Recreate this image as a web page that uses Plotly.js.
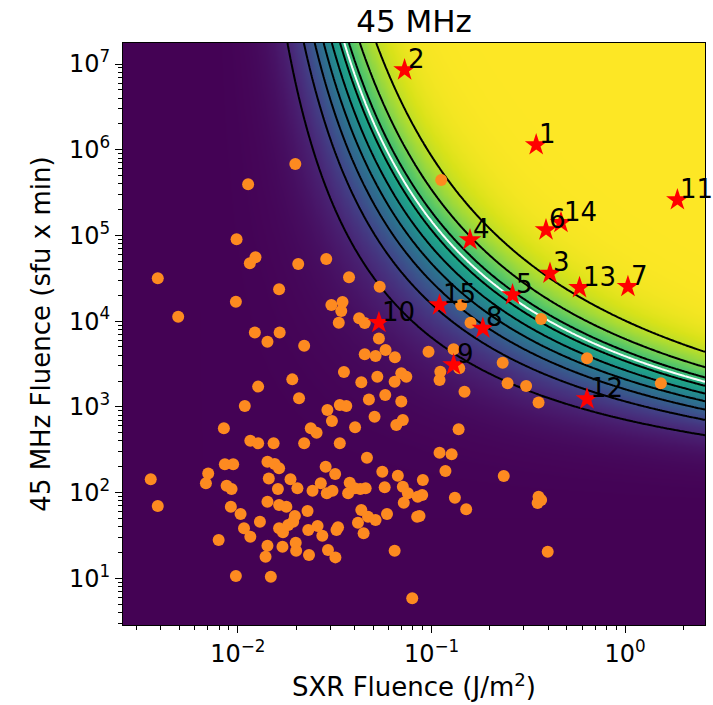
<!DOCTYPE html>
<html>
<head>
<meta charset="utf-8">
<script src="https://cdn.plot.ly/plotly-3.0.1.min.js"></script>
<style>
html,body{margin:0;padding:0;background:#fff;}
#chart{width:713px;height:705px;}
</style>
</head>
<body>
<div id="chart"></div>
<script>
// ---------- data ----------
// orange events: SXR fluence (J/m^2) and 45 MHz fluence (sfu x min)
const sxrOrange = [
0.0198,0.0113,0.00985,0.01153,0.01233,0.0205,0.0286,0.0375,0.00386,0.01633,0.054,0.00977,0.00492,0.0304,0.0347,0.0342,0.0332,0.0423,0.0452,0.01224,0.01422,0.01644,0.0535,0.022,
0.1122,0.1422,0.159,0.368,
0.0452,0.0514,0.0579,0.0647,0.0353,0.0434,0.0525,0.0645,0.0698,0.0741,0.0191,0.01273,0.0207,0.0475,0.0577,0.0698,0.01086,0.029,0.0336,0.0363,0.0306,0.0508,0.0403,0.0658,0.0711,
0.00847,0.0238,0.0255,0.0116,0.01273,0.0153,0.022,0.0336,0.0464,0.01422,0.0155,0.01633,0.00857,0.00946,0.0284,0.0318,0.0557,0.067,0.00703,0.01445,0.0187,0.00355,0.00684,
0.00875,0.00928,0.0161,0.0203,0.0243,0.0268,0.0288,0.0308,0.0378,0.0401,0.0371,0.0429,0.0457,0.0573,0.0711,0.0755,0.0849,0.00386,0.0092,0.01033,0.01422,0.01633,0.0178,
0.0197,0.0193,0.0229,0.0434,0.047,0.0514,0.0417,0.0589,0.0719,0.0843,0.013,0.01076,0.01633,0.0171,0.0182,0.0231,0.0258,0.0273,0.0323,0.0329,0.0446,0.0116,0.00796,
0.01422,0.017,0.0199,0.02,0.0233,0.0292,0.0319,0.0139,0.0645,0.00977,0.0148,0.0795,
0.0965,0.130,0.111,0.110,0.139,0.148,0.233,0.247,0.308,0.357,0.635,1.528,0.138,0.110,0.127,0.118,0.236,0.0902,0.0895,0.132,0.151,0.0867,0.357,0.368,0.353,0.398
];
const radioOrange = [
6.81e5,3.95e5,9.02e4,4.72e4,5.56e4,4.64e4,5.31e4,3.24e4,3.16e4,2.35e4,2.52e4,1.68e4,1.125e4,1.54e4,1.67e4,1.31e4,9.58e3,1.08e4,9.5e3,7.36e3,5.75e3,7.36e3,6.27e3,5.16e3,
4.43e5,1.54e4,9.58e3,1.06e4,
4.10e3,3.92e3,4.60e3,3.78e3,2.55e3,1.93e3,2.24e3,1.96e3,2.46e3,2.24e3,2.09e3,1.72e3,1.256e3,1.22e3,1.37e3,1.15e3,1.02e3,918,1.05e3,1.02e3,683,766,576,613,702,
561,561,499,402,375,375,375,375,255,229,215,192,213,213,200,164,175,157,167,146,143,143,128,
120,110,110,112,105,128,97.9,105,130,112,97.9,110,112,115,117,97.9,89.3,69.5,68.3,56.1,78.1,71.5,68.3,
53.2,45.6,60.8,62.5,52.2,47.8,44.4,56.1,76.0,52.2,45.6,38.2,38.2,34.3,41.8,36.5,40.6,31.3,36.5,39.3,33.4,30.5,27.9,
23.9,23.3,25.9,20.9,18.7,21.3,17.5,17.8,20.9,10.6,10.4,5.83,
4.40e3,4.69e3,2.57e3,2.06e3,2.81e3,1.50e3,3.27e3,1.88e3,1.75e3,1.12e3,3.68e3,1.88e3,546,291,279,178,156,140,93.5,86.9,63.7,53.2,89.3,81.8,75.4,20.4
];
// red numbered events
const starLabels = ["1","2","3","4","5","6","7","8","9","10","11","12","13","14","15"];
const sxrStar   = [0.347,0.0726,0.409,0.158,0.262,0.390,1.033,0.184,0.130,0.0535,1.86,0.635,0.581,0.466,0.110];
const radioStar = [1.135e6,8.51e6,3.61e4,8.84e4,2.02e4,1.156e5,2.52e4,8.24e3,3.08e3,9.58e3,2.59e5,1.233e3,2.45e4,1.41e5,1.54e4];
// axis ticks
const xTickVals = [0.01,0.1,1];
const xTickText = ["10<sup>\u22122</sup>","10<sup>\u22121</sup>","10<sup>0</sup>"];
const yTickVals = [1e1,1e2,1e3,1e4,1e5,1e6,1e7];
const yTickText = ["10<sup>1</sup>","10<sup>2</sup>","10<sup>3</sup>","10<sup>4</sup>","10<sup>5</sup>","10<sup>6</sup>","10<sup>7</sup>"];
// background probability model (logistic with log-log interaction)
const MODEL_U0 = -2.2, MODEL_V0 = 1.7, MODEL_SLOPE = 1.73, MODEL_MID = 3.8;
const BLACK_LEVELS = {start:0.1, end:0.9, size:0.1};
const WHITE_LEVEL = 0.65;
// axis ranges (log10)
const XR = [-2.593, 0.412], YR = [0.454, 7.245];

// ---------- background grid ----------
const NX = 260, NY = 260;
const gx = [], gy = [], gz = [];
for (let j = 0; j < NX; j++) gx.push(Math.pow(10, XR[0] + (XR[1]-XR[0])*j/(NX-1)));
for (let i = 0; i < NY; i++) {
  const v = YR[0] + (YR[1]-YR[0])*i/(NY-1);
  gy.push(Math.pow(10, v));
  const row = [];
  for (let j = 0; j < NX; j++) {
    const u = XR[0] + (XR[1]-XR[0])*j/(NX-1);
    const P = Math.max(u-MODEL_U0,0)*Math.max(v-MODEL_V0,0);
    row.push(1/(1+Math.exp(-MODEL_SLOPE*(P-MODEL_MID))));
  }
  gz.push(row);
}

const FONT = "DejaVu Sans, Arial, sans-serif";
const traces = [
  {type:'heatmap', x:gx, y:gy, z:gz, colorscale:'Viridis', zmin:0, zmax:1, zsmooth:'best', showscale:false, hoverinfo:'skip'},
  {type:'contour', x:gx, y:gy, z:gz, autocontour:false, contours:{start:BLACK_LEVELS.start, end:BLACK_LEVELS.end, size:BLACK_LEVELS.size, coloring:'none'},
   line:{color:'black', width:2, smoothing:1}, showscale:false, hoverinfo:'skip'},
  {type:'contour', x:gx, y:gy, z:gz, autocontour:false, contours:{start:WHITE_LEVEL, end:WHITE_LEVEL, size:1, coloring:'none'},
   line:{color:'white', width:2, smoothing:1}, showscale:false, hoverinfo:'skip'},
  {type:'scatter', mode:'markers', x:sxrOrange, y:radioOrange, marker:{color:'#fd8a20', size:12, line:{width:0}}, hoverinfo:'skip'},
  {type:'scatter', mode:'markers', x:sxrStar, y:radioStar, marker:{color:'#ff0000', size:17, symbol:'star', line:{width:0}}, hoverinfo:'skip'}
];

const annotations = starLabels.map((t,i)=>({
  x: Math.log10(sxrStar[i]), y: Math.log10(radioStar[i]), xref:'x', yref:'y',
  text: t, showarrow:false, xanchor:'left', yanchor:'bottom', xshift:1, yshift:-6,
  font:{family:FONT, size:26, color:'black'}
}));

function minorVals(lo, hi){
  const out=[];
  for (let e=Math.floor(lo); e<=Math.ceil(hi); e++) for (let m=2;m<=9;m++){
    const v=m*Math.pow(10,e); const l=Math.log10(v);
    if (l>lo && l<hi) out.push(v);
  }
  return out;
}

const layout = {
  width:713, height:705,
  margin:{l:123, r:8, t:43, b:80},
  paper_bgcolor:'white', plot_bgcolor:'white',
  showlegend:false,
  font:{family:FONT, color:'black'},
  title:{text:'45 MHz', font:{family:FONT, size:31, color:'black'}, x:0.5, xref:'paper', xanchor:'center', y:1-21/705, yref:'container', yanchor:'middle'},
  xaxis:{type:'log', range:XR, tickmode:'array', tickvals:xTickVals, ticktext:xTickText,
    ticks:'outside', ticklen:7, tickwidth:1, tickcolor:'black', showgrid:false, zeroline:false,
    showline:true, linecolor:'black', linewidth:1, mirror:true,
    tickfont:{family:FONT, size:24, color:'black'},
    minor:{tickmode:'array', tickvals:minorVals(XR[0],XR[1]), ticks:'outside', ticklen:4, tickwidth:1, tickcolor:'black', showgrid:false},
    title:{text:'SXR Fluence (J/m<sup>2</sup>)', font:{family:FONT, size:26, color:'black'}, standoff:11}},
  yaxis:{type:'log', range:YR, tickmode:'array', tickvals:yTickVals, ticktext:yTickText,
    ticks:'outside', ticklen:7, tickwidth:1, tickcolor:'black', showgrid:false, zeroline:false,
    showline:true, linecolor:'black', linewidth:1, mirror:true,
    tickfont:{family:FONT, size:24, color:'black'},
    minor:{tickmode:'array', tickvals:minorVals(YR[0],YR[1]), ticks:'outside', ticklen:4, tickwidth:1, tickcolor:'black', showgrid:false},
    title:{text:'45 MHz Fluence (sfu x min)', font:{family:FONT, size:26, color:'black'}, standoff:10}},
  annotations: annotations
};

Plotly.newPlot('chart', traces, layout, {staticPlot:true, displayModeBar:false});
</script>
</body>
</html>
